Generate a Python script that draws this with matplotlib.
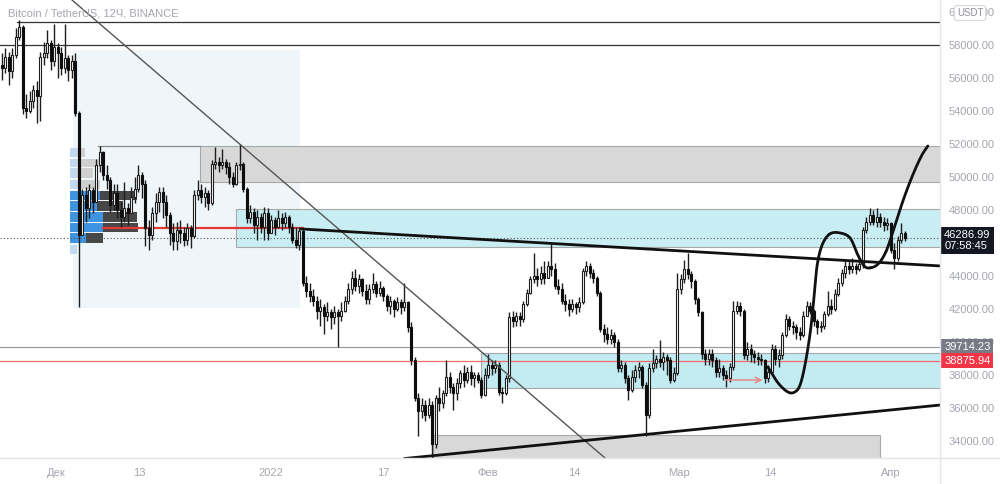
import matplotlib
matplotlib.use('Agg')
import numpy as np
import matplotlib.pyplot as plt
from matplotlib.lines import Line2D

plt.rcParams['font.family'] = ['Liberation Sans', 'DejaVu Sans']

# 12h candles, prices in thousands USDT
closes = [
    56.6, 57.3, 56.4, 57.4, 58.5, 59.1, 54.2, 54.0, 54.6, 55.3,
    54.9, 57.3, 57.5, 58.1, 57.0, 57.9, 57.5, 56.6, 57.2, 56.5,
    57.0, 53.9, 46.5, 48.9, 48.1, 49.2, 48.5, 50.7, 51.5, 50.1,
    49.8, 48.3, 49.0, 48.0, 47.6, 48.1, 47.8, 48.8, 49.3, 50.1,
    49.6, 46.9, 46.5, 47.8, 48.5, 49.1, 48.5, 47.7, 46.6, 46.1,
    46.8, 46.6, 46.2, 46.9, 46.4, 48.9, 49.2, 48.8, 49.0, 48.4,
    50.8, 50.9, 50.7, 50.9, 50.6, 50.0, 49.6, 50.7, 50.8, 49.3,
    47.5, 47.9, 47.1, 47.6, 47.0, 47.8, 46.6, 47.4, 47.0, 47.5,
    47.2, 47.6, 47.0, 46.2, 45.9, 46.7, 43.6, 43.1, 42.8, 42.5,
    41.9, 42.1, 41.6, 41.8, 41.5, 41.8, 41.6, 41.9, 42.5, 43.2,
    43.9, 43.4, 43.8, 43.1, 42.6, 43.2, 43.5, 43.0, 43.3, 42.8,
    42.2, 42.5, 42.0, 42.4, 42.1, 42.4, 40.9, 38.9, 36.6, 35.8,
    36.2, 35.6, 36.2, 33.8, 36.6, 36.3, 36.9, 37.9, 37.3, 36.9,
    37.5, 38.1, 37.7, 38.2, 37.8, 38.0, 37.7, 36.8, 38.0, 38.6,
    38.4, 38.6, 37.0, 36.9, 37.8, 41.5, 41.3, 41.6, 41.4, 42.3,
    43.0, 43.8, 44.0, 43.8, 44.2, 43.9, 44.6, 44.4, 43.4, 43.2,
    42.5, 42.3, 42.0, 42.3, 42.1, 42.4, 44.3, 44.6, 44.2, 43.9,
    43.0, 40.8, 40.5, 40.2, 40.4, 40.0, 38.4, 38.6, 37.8, 37.1,
    37.9, 38.3, 38.5, 37.4, 35.6, 38.4, 38.7, 39.0, 38.8, 39.1,
    38.9, 37.7, 38.1, 43.2, 43.8, 44.4, 44.1, 43.7, 42.6, 41.8,
    39.3, 39.0, 39.3, 38.9, 38.2, 38.4, 38.0, 37.8, 38.5, 41.9,
    42.2, 41.9, 39.2, 39.6, 39.3, 39.1, 39.0, 38.9, 37.8, 38.2,
    39.6, 39.0, 39.2, 40.4, 41.4, 41.0, 40.9, 40.6, 40.4, 41.6,
    42.2, 41.9, 41.3, 40.9, 41.0, 41.7, 42.2, 42.0, 42.9, 43.6,
    44.2, 44.6, 44.4, 44.6, 44.4, 44.7, 46.8, 47.3, 47.7, 47.3,
    47.6, 47.3, 47.1, 47.2, 45.6, 45.1, 46.2, 46.6, 46.287,
]
highs = [
    57.5, 57.8, 57.6, 57.8, 59.0, 59.5, 59.2, 55.0, 55.2, 55.6,
    55.8, 57.6, 58.2, 58.9, 58.3, 59.3, 58.1, 57.9, 59.3, 57.4,
    57.4, 57.5, 54.0, 49.3, 49.4, 49.6, 49.4, 51.1, 51.9, 51.6,
    50.7, 50.0, 49.6, 49.6, 48.5, 49.7, 48.4, 49.4, 50.0, 50.7,
    50.3, 49.8, 47.4, 48.2, 49.0, 49.4, 49.4, 48.9, 47.9, 47.2,
    47.3, 47.4, 47.0, 47.2, 47.1, 49.2, 49.8, 49.6, 49.4, 49.2,
    51.0, 51.8, 51.2, 51.7, 51.1, 50.9, 50.3, 50.9, 52.0, 50.9,
    49.4, 48.3, 48.1, 48.0, 47.8, 48.2, 48.1, 47.7, 47.6, 48.0,
    47.8, 47.9, 47.7, 47.2, 47.0, 47.0, 46.9, 44.0, 43.6, 43.2,
    42.8, 42.6, 42.3, 42.4, 42.0, 42.2, 42.0, 42.4, 42.8, 43.6,
    44.3, 44.4, 44.1, 43.9, 43.5, 43.5, 44.2, 43.7, 43.7, 43.4,
    42.9, 42.8, 42.6, 42.7, 42.6, 43.6, 42.5, 41.2, 39.1, 36.9,
    36.6, 36.5, 36.6, 36.4, 36.8, 37.3, 37.1, 38.9, 38.2, 37.5,
    37.8, 38.3, 38.6, 38.5, 38.6, 38.2, 38.2, 37.9, 38.4, 39.3,
    38.9, 38.9, 38.8, 37.3, 38.0, 41.8, 41.9, 41.8, 41.8, 42.5,
    43.2, 44.0, 45.4, 44.5, 44.6, 44.9, 44.9, 46.0, 44.8, 43.8,
    43.6, 42.9, 42.6, 42.6, 42.4, 42.7, 44.5, 44.9, 44.8, 44.4,
    44.0, 43.1, 41.1, 40.9, 40.8, 40.6, 40.2, 38.9, 38.8, 38.0,
    38.3, 38.6, 38.8, 38.6, 37.6, 38.7, 39.6, 39.2, 40.1, 39.4,
    39.3, 39.1, 38.5, 44.2, 44.1, 45.0, 45.4, 44.3, 43.8, 42.7,
    41.9, 39.6, 39.6, 39.6, 39.1, 39.0, 38.6, 38.3, 38.7, 42.5,
    42.5, 42.4, 42.0, 40.0, 39.9, 39.5, 39.4, 39.3, 39.0, 38.6,
    39.9, 39.8, 39.6, 40.6, 41.7, 41.6, 41.3, 41.1, 40.9, 41.9,
    42.5, 42.4, 42.0, 41.4, 41.3, 41.9, 43.1, 42.6, 43.2, 43.9,
    44.4, 44.9, 45.0, 45.1, 44.8, 45.0, 47.0, 47.6, 48.1, 48.0,
    48.1, 47.8, 47.6, 47.5, 47.3, 46.0, 46.4, 47.2, 46.7,
]
lows = [
    55.9, 56.3, 55.6, 56.0, 57.2, 58.3, 53.8, 53.6, 53.9, 54.2,
    53.3, 53.4, 56.8, 57.2, 56.5, 56.7, 56.0, 56.2, 56.3, 55.8,
    56.0, 53.7, 42.1, 46.6, 47.3, 47.5, 47.8, 48.5, 50.3, 49.8,
    49.3, 47.9, 48.0, 47.5, 47.0, 47.3, 47.1, 47.9, 48.4, 49.1,
    48.7, 45.8, 45.6, 46.2, 47.3, 47.9, 47.5, 47.0, 45.9, 45.6,
    45.6, 46.0, 45.8, 45.9, 45.7, 46.3, 48.6, 48.4, 48.2, 48.0,
    48.3, 50.5, 50.3, 50.5, 50.2, 49.6, 49.4, 49.5, 50.4, 49.1,
    47.2, 47.2, 46.6, 46.2, 46.6, 46.2, 46.2, 46.6, 46.5, 46.9,
    46.8, 46.9, 46.6, 46.0, 45.7, 45.6, 43.4, 42.7, 42.4, 42.2,
    41.4, 41.0, 40.5, 41.3, 40.8, 41.1, 39.7, 41.3, 41.8, 42.3,
    42.9, 43.1, 43.0, 42.8, 42.3, 42.3, 43.0, 42.7, 42.8, 42.5,
    41.9, 41.7, 41.5, 41.9, 41.7, 41.9, 40.6, 38.6, 36.4, 34.3,
    35.4, 35.2, 35.4, 33.0, 33.6, 35.8, 36.0, 36.7, 36.9, 35.9,
    36.5, 37.2, 37.3, 37.5, 37.4, 37.3, 37.5, 36.6, 36.7, 37.8,
    38.0, 38.1, 36.8, 36.3, 36.8, 37.6, 40.9, 41.0, 41.0, 41.2,
    42.2, 42.9, 43.6, 43.4, 43.5, 43.5, 43.9, 44.0, 43.2, 42.9,
    42.3, 41.9, 41.6, 41.8, 41.7, 41.8, 42.3, 44.0, 43.9, 43.6,
    42.8, 40.6, 40.0, 39.9, 39.9, 39.7, 38.2, 38.2, 37.5, 36.5,
    37.0, 37.6, 37.8, 37.2, 34.3, 35.4, 38.2, 38.4, 38.5, 38.3,
    38.0, 37.5, 37.6, 38.0, 42.9, 43.6, 43.8, 43.3, 42.3, 41.6,
    39.0, 38.6, 38.6, 38.5, 37.9, 37.9, 37.7, 37.3, 37.6, 38.3,
    41.7, 41.6, 39.0, 38.9, 38.8, 38.7, 38.6, 38.6, 37.5, 37.6,
    38.1, 38.6, 38.5, 39.0, 40.3, 40.7, 40.5, 40.2, 40.1, 40.3,
    41.7, 41.7, 41.0, 40.5, 40.6, 40.8, 41.6, 41.7, 41.9, 42.8,
    43.4, 43.9, 44.1, 44.2, 44.1, 44.3, 44.5, 46.6, 47.1, 47.1,
    47.0, 47.0, 46.7, 46.8, 45.4, 44.4, 44.9, 46.0, 46.1,
]
first_open = 56.8

# time axis labels (bar index positions)
xtick_pos = [15.5, 39.2, 76.9, 109.0, 138.9, 163.5, 193.5, 219.5, 254.1]
xtick_lab = ['Дек', '13', '2022', '17', 'Фев', '14', 'Мар', '14', 'Апр']

# fixed range volume profile (price rows in k, widths in bars)
vp_edges = [51.82, 51.15, 50.55, 49.88, 49.21, 48.55, 47.88, 47.27, 46.61, 45.94, 45.27]
vp_up = [2.0, 2.0, 2.0, 2.0, 8.6, 7.7, 9.4, 9.4, 4.6, 2.0]
vp_dn = [2.3, 6.6, 4.6, 6.6, 10.6, 7.4, 9.7, 10.0, 4.9, 0.0]
vp_in_va = [False, False, False, False, True, True, True, True, True, False]
vp_start = 19.5
vp_box = (20.4, 85.2, 42.06, 57.7)   # x0, x1, y0, y1
poc = (28.9, 86.1, 46.91)

# drawings: (x0, x1, y0, y1) in bar index / k price
zone_grey_top = (56.6, 269, 49.70, 51.88)
zone_cyan_a = (66.9, 269, 45.76, 48.06)
zone_cyan_b = (137.0, 269, 37.21, 39.33)
zone_grey_bot = (123.2, 250.9, 32.0, 34.36)
hlines = [(4.3, 59.41), (-1, 58.0)]
trend_thin = ([20.07, 172.36], [60.727, 32.97])
trend_top = ([85.6, 268.1], [46.85, 44.61])
trend_bot = ([115.2, 268.1], [32.94, 36.18])
arrow = (206.1, 218.1, 37.70)
curve_x = [218.9, 221.8, 224.6, 226.6, 228.1, 229.5, 230.9, 231.8, 232.9, 234.4,
           236.6, 239.5, 242.4, 244.6, 246.4, 248.1, 250.4, 252.6, 254.6, 256.6,
           258.6, 260.9, 262.9, 264.6]
curve_y = [38.49, 37.52, 36.97, 36.97, 37.40, 38.61, 40.43, 42.12, 44.55, 45.88,
           46.55, 46.61, 46.30, 45.27, 44.61, 44.49, 44.73, 45.46, 46.67, 48.00,
           49.21, 50.43, 51.33, 51.88]
last_price = 46286.99
level_grey = 39714.23
level_red = 38875.94

k = 1000.0
c = np.array(closes) * k
h = np.array(highs) * k
l = np.array(lows) * k
o = np.concatenate([[first_open * k], c[:-1]])
h = np.maximum(h, np.maximum(o, c))
l = np.minimum(l, np.minimum(o, c))
x = np.arange(len(c))

fig = plt.figure(figsize=(10, 4.84), dpi=100)
ax = fig.add_axes([0, 26 / 484, 0.94, 458 / 484])
ax.set_xlim(-0.5, 268.07)
ax.set_ylim(32970, 60727)

# volume profile background and rows
ax.add_patch(plt.Rectangle((vp_box[0], vp_box[2] * k), vp_box[1] - vp_box[0],
                           (vp_box[3] - vp_box[2]) * k, facecolor='#eff6fa',
                           edgecolor='none', zorder=0))
for i in range(len(vp_up)):
    top, bot = vp_edges[i] * k, vp_edges[i + 1] * k
    hh = (top - bot) * 0.9
    ucol = '#3f94e2' if vp_in_va[i] else '#c2daf1'
    dcol = '#474747' if vp_in_va[i] else '#d0d0d0'
    ax.barh(bot + (top - bot) / 2, vp_up[i], left=vp_start, height=hh,
            color=ucol, zorder=1)
    ax.barh(bot + (top - bot) / 2, vp_dn[i], left=vp_start + vp_up[i], height=hh,
            color=dcol, zorder=1)

# zones
for (x0, x1, y0, y1), fc in [(zone_grey_top, '#d8d8d8'), (zone_cyan_a, '#c8edf3'),
                             (zone_cyan_b, '#c2ebf2'), (zone_grey_bot, '#d8d8d8')]:
    ax.add_patch(plt.Rectangle((x0, y0 * k), x1 - x0, (y1 - y0) * k,
                               facecolor=fc, edgecolor='#a8a8a8', lw=0.8, zorder=0.5))
ax.plot([27.5, zone_grey_top[0]], [zone_grey_top[3] * k] * 2, color='#8a8a8a', lw=0.9, zorder=0.6)

# horizontal levels
for x0, yv in hlines:
    ax.plot([x0, 270], [yv * k, yv * k], color='#333333', lw=0.9, zorder=2)
ax.axhline(level_grey, color='#9a9da5', lw=0.9, zorder=2)
ax.axhline(level_red, color='#f06a6a', lw=0.9, zorder=2)
ax.axhline(last_price, color='#555555', lw=0.8, ls=(0, (1, 2)), zorder=2)
ax.plot([poc[0], poc[1]], [poc[2] * k] * 2, color='#e53935', lw=1.6, zorder=2.5)

# candles
up = c >= o
ax.vlines(x, l, h, color='#1e1e1e', lw=1.0, zorder=3)
body = np.maximum(np.abs(c - o), 50)
ax.bar(x[up], body[up], bottom=np.minimum(o, c)[up], width=0.68,
       color='white', edgecolor='#1e1e1e', linewidth=0.8, zorder=3.5)
ax.bar(x[~up], body[~up], bottom=np.minimum(o, c)[~up], width=0.68,
       color='#0e0e0e', edgecolor='#0e0e0e', linewidth=0.8, zorder=3.5)

# smooth the hand-drawn curve through its anchors (Catmull-Rom)
px = np.array(curve_x)
py = np.array(curve_y) * k
ext_x = np.concatenate([[2 * px[0] - px[1]], px, [2 * px[-1] - px[-2]]])
ext_y = np.concatenate([[2 * py[0] - py[1]], py, [2 * py[-1] - py[-2]]])
t = np.linspace(0, 1, 12)[:, None]
sx, sy = [], []
for j in range(1, len(ext_x) - 2):
    for arr, out in ((ext_x, sx), (ext_y, sy)):
        p0, p1, p2, p3 = arr[j - 1], arr[j], arr[j + 1], arr[j + 2]
        seg = 0.5 * ((2 * p1) + (-p0 + p2) * t + (2 * p0 - 5 * p1 + 4 * p2 - p3) * t ** 2
                     + (-p0 + 3 * p1 - 3 * p2 + p3) * t ** 3)
        out.extend(seg.ravel())

# trend lines and drawings
ax.plot(trend_thin[0], np.array(trend_thin[1]) * k, color='#555555', lw=1.0, zorder=4)
ax.plot(trend_top[0], np.array(trend_top[1]) * k, color='#111111', lw=2.0, zorder=4)
ax.plot(trend_bot[0], np.array(trend_bot[1]) * k, color='#111111', lw=2.0, zorder=4)
ax.plot(sx, sy, color='#111111', lw=2.0, zorder=4,
        solid_capstyle='round', solid_joinstyle='round')
ax.annotate('', xy=(arrow[1], arrow[2] * k), xytext=(arrow[0], arrow[2] * k),
            arrowprops=dict(arrowstyle='->', color='#ef7f7f', lw=1.0), zorder=4)

# axes styling
for s in ['top', 'left', 'bottom', 'right']:
    ax.spines[s].set_visible(False)
ax.yaxis.tick_right()
yt = np.arange(34000, 60001, 2000)
ax.set_yticks(yt)
# 46000 sits under the last-price tag on the original scale
ax.set_yticklabels(['' if v == 46000 else f'{v:.2f}' for v in yt])
ax.set_xticks(xtick_pos)
ax.set_xticklabels(xtick_lab)
ax.tick_params(axis='y', length=0, pad=6, labelsize=8, labelcolor='#a3a6ae')
ax.tick_params(axis='x', length=0, pad=7, labelsize=8, labelcolor='#a3a6ae')

fig.add_artist(Line2D([0, 1], [26 / 484, 26 / 484], color='#e3e5ea', lw=1))
fig.add_artist(Line2D([0.94, 0.94], [0, 1], color='#e3e5ea', lw=1))

fig.text(0.008, 1 - 14 / 484, 'Bitcoin / TetherUS, 12Ч, BINANCE', fontsize=8,
         color='#a3a6ae', va='center', ha='left')
fig.text(0.970, 1 - 13 / 484, 'USDT', fontsize=7, color='#8d9099', va='center', ha='center',
         bbox=dict(boxstyle='round,pad=0.25', facecolor='white', edgecolor='#d6d8de', lw=0.8))

# price labels on the scale
ax.annotate(f'{last_price:.2f}\n07:58:45', xy=(1, last_price), xycoords=('axes fraction', 'data'),
            xytext=(3, 6), textcoords='offset points', va='top', ha='left', fontsize=8,
            color='white', linespacing=1.15, annotation_clip=False,
            bbox=dict(boxstyle='square,pad=0.3', facecolor='#131722', edgecolor='none'))
ax.annotate(f'{level_grey:.2f}', xy=(1, level_grey), xycoords=('axes fraction', 'data'),
            xytext=(3, 0), textcoords='offset points', va='center', ha='left', fontsize=8,
            color='white', annotation_clip=False,
            bbox=dict(boxstyle='square,pad=0.25', facecolor='#787b86', edgecolor='none'))
ax.annotate(f'{level_red:.2f}', xy=(1, level_red), xycoords=('axes fraction', 'data'),
            xytext=(3, 0), textcoords='offset points', va='center', ha='left', fontsize=8,
            color='white', annotation_clip=False,
            bbox=dict(boxstyle='square,pad=0.25', facecolor='#f23645', edgecolor='none'))

fig.savefig('out.png', dpi=100, facecolor='white')
